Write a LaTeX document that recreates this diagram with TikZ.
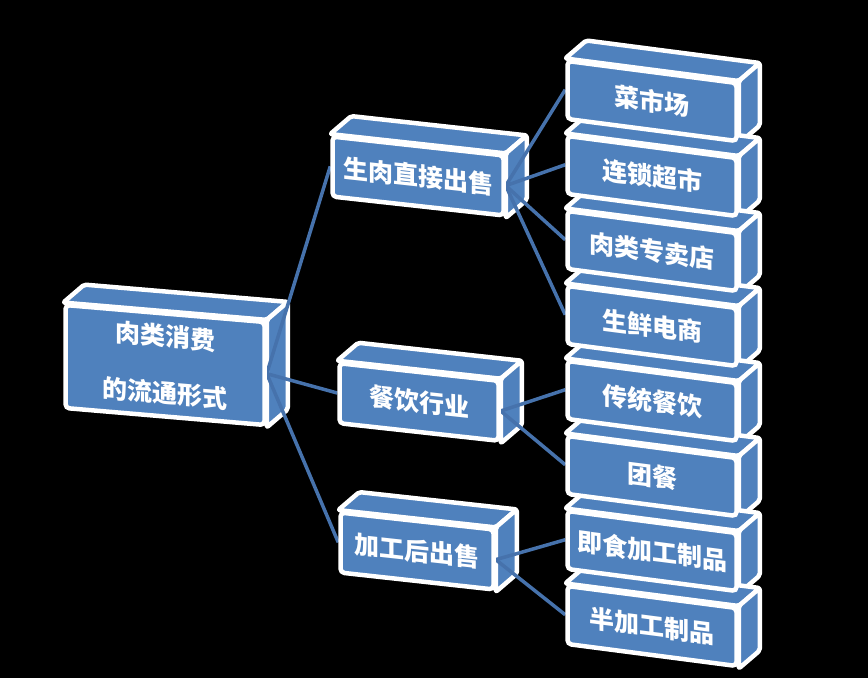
\documentclass[tikz,border=0pt]{standalone}
\usepackage{fontspec}
\newfontfamily\cjk{Noto Sans CJK SC}
\definecolor{blk}{RGB}{79, 129, 189}
\definecolor{lnk}{RGB}{70, 114, 172}
\pgfdeclarelayer{bg}
\pgfdeclarelayer{mid}
\pgfsetlayers{bg,mid,main}

\begin{document}
\begin{tikzpicture}[x=1pt, y=-1pt]
    \tikzstyle{cube} = [rectangle, draw=white, line width=4.5pt, fill=blk, rounded corners=4pt,
    text=white, align=center, inner sep=2pt, font=\cjk\bfseries\fontsize{25}{30}\selectfont];
    \tikzstyle{rootcube} = [cube, minimum width=199pt, minimum height=103pt, yslant=-0.085,
    font=\cjk\bfseries\fontsize{25}{57}\selectfont];
    \tikzstyle{midcube} = [cube, minimum height=60pt, yslant=-0.11];
    \tikzstyle{leafcube} = [cube, minimum width=169pt, minimum height=58pt, yslant=-0.13];
    \tikzstyle{face} = [draw=white, line width=4.5pt, fill=blk, rounded corners=2pt, line join=round];
    \tikzstyle{link} = [draw=lnk, line width=3.5pt];

    \begin{pgfonlayer}{bg}
      \fill[black] (0,0) rectangle (868,678);
    \end{pgfonlayer}
    \useasboundingbox (0,0) rectangle (868,678);

    % root
    \node [rootcube] (circ) at (165,365) {肉类消费\\的流通形式};
    % second level
    \node [midcube, minimum width=171pt] (raw) at (418,176) {生肉直接出售};
    \node [midcube, minimum width=159pt] (cater) at (419,402) {餐饮行业};
    \node [midcube, minimum width=153pt] (proc) at (417,551) {加工后出售};
    % leaves
    \node [leafcube] (market) at (652,101) {菜市场};
    \node [leafcube] (chain) at (652,176) {连锁超市};
    \node [leafcube] (shop) at (652,251) {肉类专卖店};
    \node [leafcube] (online) at (652,326) {生鲜电商};
    \node [leafcube] (trad) at (652,401) {传统餐饮};
    \node [leafcube] (group) at (652,476) {团餐};
    \node [leafcube] (ready) at (652,551) {即食加工制品};
    \node [leafcube] (semi) at (652,626) {半加工制品};

    \begin{pgfonlayer}{mid}
      % top and side faces
      \foreach \n in {circ,raw,cater,proc,market,chain,shop,online,trad,group,ready,semi} {
        \path [face] (\n.north west) -- ([shift={(21,-18)}]\n.north west)
          -- ([shift={(21,-18)}]\n.north east) -- (\n.north east) -- cycle;
        \path [face] (\n.north east) -- ([shift={(21,-18)}]\n.north east)
          -- ([shift={(21,-18)}]\n.south east) -- (\n.south east) -- cycle;
      }
      % links
      \foreach \t in {raw,cater,proc}
        \draw [link] (circ.east) -- (\t.west);
      \foreach \t in {market,chain,shop,online}
        \draw [link] (raw.east) -- (\t.west);
      \foreach \t in {trad,group}
        \draw [link] (cater.east) -- (\t.west);
      \foreach \t in {ready,semi}
        \draw [link] (proc.east) -- (\t.west);
    \end{pgfonlayer}
\end{tikzpicture}
\end{document}
